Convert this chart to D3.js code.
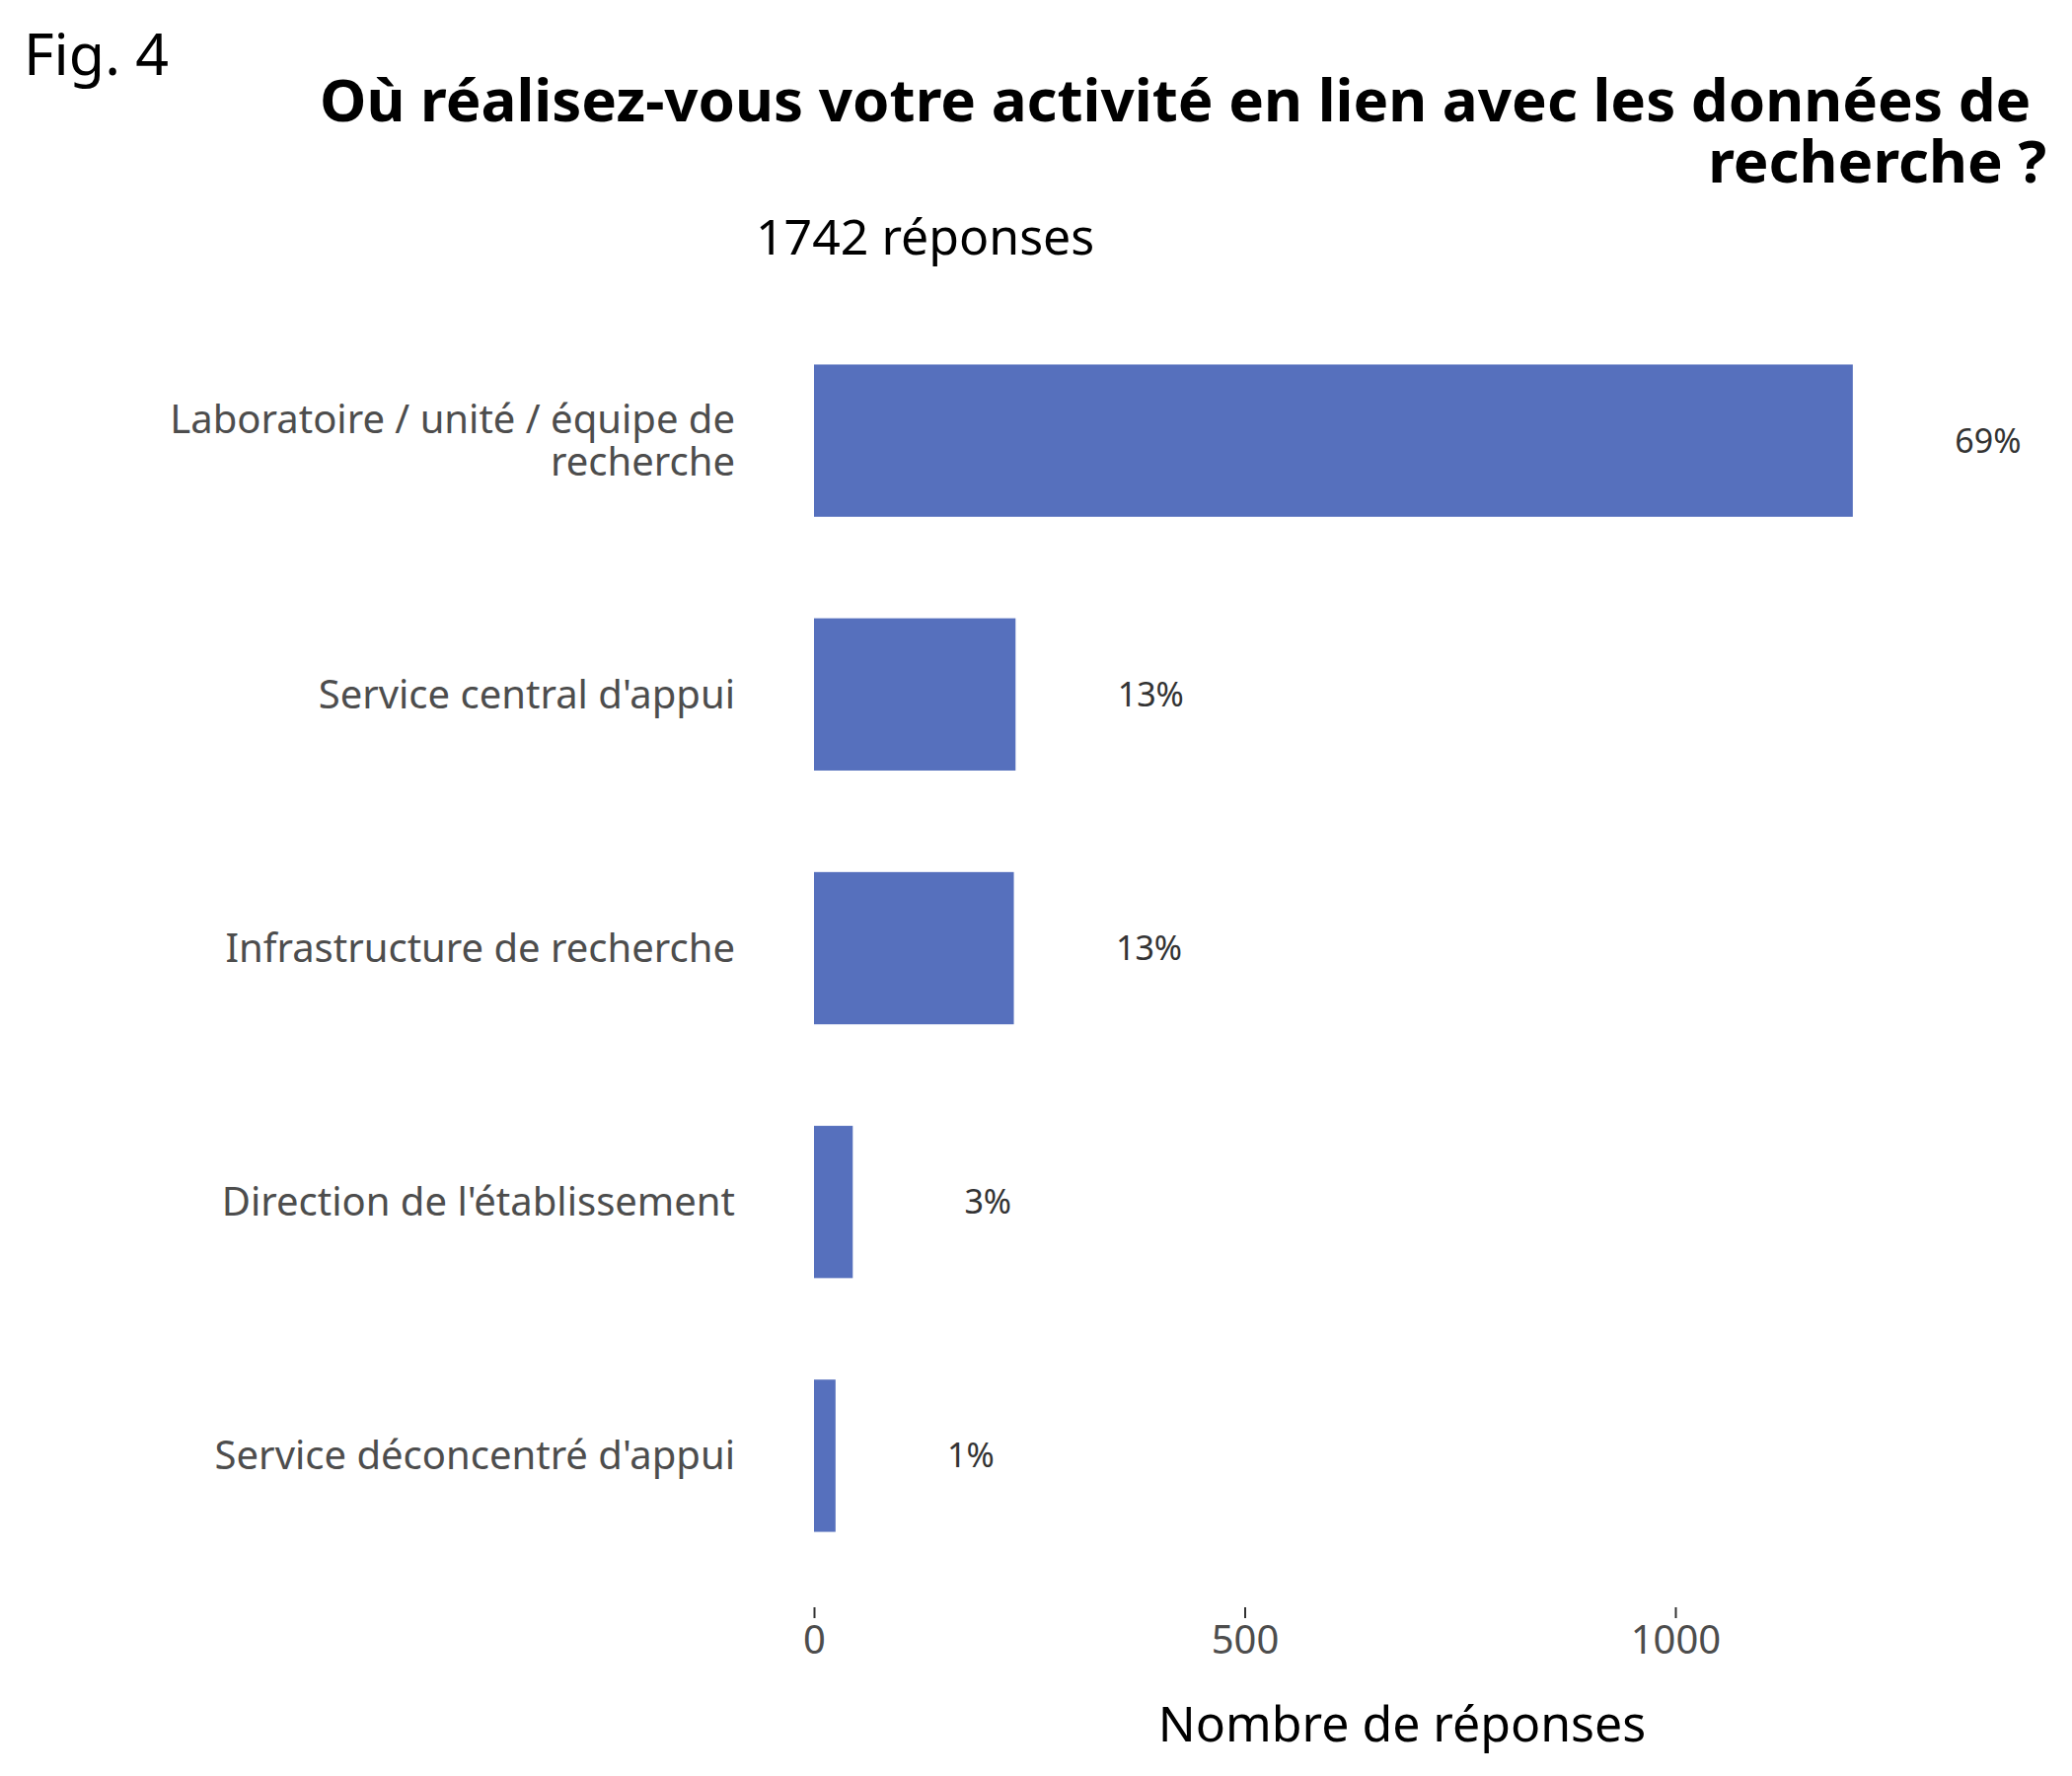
<!DOCTYPE html>
<html>
<head>
<meta charset="utf-8">
<script src="https://cdn.jsdelivr.net/npm/d3@7"></script>
<style>
  body { margin: 0; background: #fff; }
  text { font-family: "Noto Sans", sans-serif; }
</style>
</head>
<body>
<div id="chart"></div>
<script>
// Data
const categories = [
  "Laboratoire / unité / équipe de|recherche",
  "Service central d'appui",
  "Infrastructure de recherche",
  "Direction de l'établissement",
  "Service déconcentré d'appui"
];
const counts = [1206, 234, 232, 45, 25];
const percentLabels = ["69%", "13%", "13%", "3%", "1%"];
const xTicks = [0, 500, 1000];

const width = 2100, height = 1800;

const svg = d3.select("#chart")
  .append("svg")
  .attr("width", width)
  .attr("height", height);

// Scales
const x = d3.scaleLinear().domain([0, 1000]).range([825, 1698]);
const y = d3.scaleBand()
  .domain(categories)
  .range([318, 1604])
  .paddingInner(0.4)
  .paddingOuter(0.2);

const barColor = "#5670bd";

// Bars
svg.append("g")
  .selectAll("rect")
  .data(counts)
  .enter().append("rect")
  .attr("x", x(0))
  .attr("y", (d, i) => y(categories[i]))
  .attr("width", d => x(d) - x(0))
  .attr("height", y.bandwidth())
  .attr("fill", barColor);

// Percent labels
svg.append("g")
  .selectAll("text")
  .data(counts)
  .enter().append("text")
  .attr("x", d => x(d) + 137)
  .attr("y", (d, i) => y(categories[i]) + y.bandwidth() / 2)
  .attr("dy", "0.35em")
  .attr("text-anchor", "middle")
  .attr("fill", "#333333")
  .style("font-size", "34px")
  .text((d, i) => percentLabels[i]);

// Category labels (y axis)
const yLab = svg.append("g")
  .selectAll("text")
  .data(categories)
  .enter().append("text")
  .attr("text-anchor", "end")
  .attr("fill", "#4d4d4d")
  .style("font-size", "40px")
  .attr("y", d => y(d) + y.bandwidth() / 2);

yLab.each(function (d) {
  const lines = d.split("|");
  const t = d3.select(this);
  const lh = 43;
  const start = -(lines.length - 1) * lh / 2;
  lines.forEach((l, j) => {
    t.append("tspan")
      .attr("x", 745)
      .attr("dy", j === 0 ? (start + 14) + "px" : lh + "px")
      .text(l);
  });
});

// X axis
const xAxis = svg.append("g")
  .attr("transform", "translate(0,1629)")
  .call(d3.axisBottom(x).tickValues(xTicks).tickSize(11).tickPadding(8).tickFormat(d3.format("d")));
xAxis.select(".domain").remove();
xAxis.selectAll(".tick line").attr("stroke", "#333333").attr("stroke-width", 2);
xAxis.selectAll(".tick text")
  .attr("fill", "#4d4d4d")
  .style("font-size", "40px")
  .style("font-family", "'Noto Sans', sans-serif");

// Axis title
svg.append("text")
  .attr("x", 1421)
  .attr("y", 1765)
  .attr("text-anchor", "middle")
  .style("font-size", "50px")
  .attr("fill", "#000")
  .text("Nombre de réponses");

// Fig label
svg.append("text")
  .attr("x", 24)
  .attr("y", 76)
  .style("font-size", "59px")
  .attr("fill", "#000")
  .text("Fig. 4");

// Title (two lines, right aligned)
const title = svg.append("text")
  .attr("text-anchor", "end")
  .style("font-size", "60px")
  .style("font-weight", "bold")
  .attr("fill", "#000");
title.append("tspan").attr("x", 2074).attr("y", 123)
  .text("Où réalisez-vous votre activité en lien avec les données de\u00a0");
title.append("tspan").attr("x", 2074).attr("y", 185)
  .text("recherche ?");

// Subtitle
svg.append("text")
  .attr("x", 766)
  .attr("y", 258)
  .style("font-size", "50px")
  .attr("fill", "#000")
  .text("1742 réponses");
</script>
</body>
</html>
